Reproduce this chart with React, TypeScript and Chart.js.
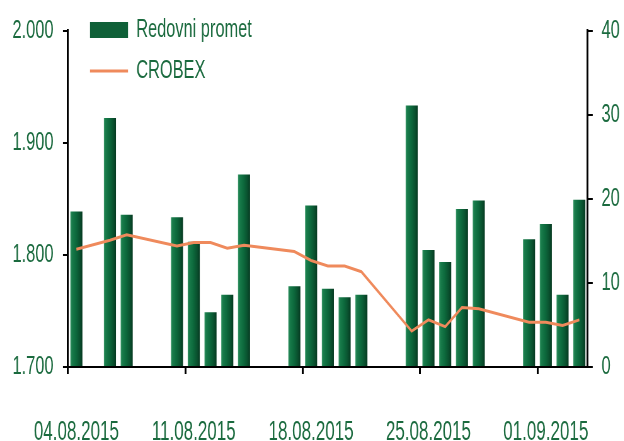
import React, { useEffect, useRef } from 'react';
import { Chart, registerables } from 'chart.js';

Chart.register(...registerables);

// ---- data ----
const dates: string[] = [
  '04.08.2015', '05.08.2015', '06.08.2015', '07.08.2015', '08.08.2015', '09.08.2015', '10.08.2015',
  '11.08.2015', '12.08.2015', '13.08.2015', '14.08.2015', '15.08.2015', '16.08.2015', '17.08.2015',
  '18.08.2015', '19.08.2015', '20.08.2015', '21.08.2015', '22.08.2015', '23.08.2015', '24.08.2015',
  '25.08.2015', '26.08.2015', '27.08.2015', '28.08.2015', '29.08.2015', '30.08.2015', '31.08.2015',
  '01.09.2015', '02.09.2015', '03.09.2015',
];
const redovniPromet: (number | null)[] = [
  18.5, null, 29.6, 18.1, null, null, 17.8,
  14.9, 6.5, 8.6, 22.9, null, null, 9.6,
  19.2, 9.3, 8.3, 8.6, null, null, 31.1,
  13.9, 12.5, 18.8, 19.8, null, null, 15.2,
  17.0, 8.6, 19.9,
];
const crobex: (number | null)[] = [
  1805, null, 1813, 1818, null, null, 1808,
  1811, 1811, 1806, 1808.5, null, null, 1803,
  1795, 1790, 1790, 1785, null, null, 1732,
  1742, 1736, 1753, 1752, null, null, 1740,
  1740, 1737, 1742,
];
const leftMin = 1700;
const leftMax = 2000;
const leftStep = 100;
const rightMin = 0;
const rightMax = 40;
const rightStep = 10;
const labelEvery = 7;

// ---- styles ----
const SX = 0.63;
const W = 624 / SX;
const H = 441;
const GREEN_TEXT = '#1a6a3e';
const BAR = '#0f6038';
const LINE = '#ef8a5c';
const FONT = "'Liberation Sans', Arial, sans-serif";
const LEGEND_PAD = 15;

const legendPos = {
  id: 'legendPos',
  afterLayout(chart: any) {
    const lg = chart.legend;
    if (lg) {
      lg.left = 90 / SX - LEGEND_PAD;
      lg.top = 2;
    }
  },
};

export default function App() {
  const ref = useRef<HTMLCanvasElement | null>(null);

  useEffect(() => {
    document.body.style.margin = '0';
    const canvas = ref.current;
    if (!canvas) return;

    const barBg = (ctx: any) => {
      const chart = ctx.chart;
      const xs = chart.scales && chart.scales.x;
      if (!chart.chartArea || !xs || ctx.dataIndex === undefined) return BAR;
      const x = xs.getPixelForValue(ctx.dataIndex);
      const half = ((chart.chartArea.width / dates.length) * 0.72) / 2;
      if (!isFinite(x)) return BAR;
      const g = chart.ctx.createLinearGradient(x - half, 0, x + half, 0);
      g.addColorStop(0, '#3f9a6c');
      g.addColorStop(0.12, '#1a7d4c');
      g.addColorStop(0.45, '#0d6a3d');
      g.addColorStop(0.75, '#0a5330');
      g.addColorStop(1, '#063a21');
      return g;
    };

    const chart = new Chart(canvas, {
      type: 'bar',
      data: {
        labels: dates,
        datasets: [
          {
            type: 'bar',
            label: 'Redovni promet',
            data: redovniPromet,
            yAxisID: 'y1',
            backgroundColor: barBg,
            borderWidth: 0,
            barPercentage: 1,
            categoryPercentage: 0.72,
            order: 2,
          } as any,
          {
            type: 'line',
            label: 'CROBEX',
            data: crobex,
            yAxisID: 'y',
            borderColor: LINE,
            backgroundColor: LINE,
            borderWidth: 3,
            pointRadius: 0,
            pointStyle: 'line',
            tension: 0,
            spanGaps: true,
            order: 1,
          } as any,
        ],
      },
      options: {
        responsive: false,
        maintainAspectRatio: false,
        animation: false,
        devicePixelRatio: 1,
        layout: { padding: { top: 27, left: 0, right: 0, bottom: 0 } },
        plugins: {
          tooltip: { enabled: false },
          legend: {
            display: true,
            position: 'chartArea',
            align: 'start',
            labels: {
              usePointStyle: true,
              pointStyleWidth: 38 / SX,
              boxWidth: 38 / SX,
              boxHeight: 16,
              padding: LEGEND_PAD,
              color: GREEN_TEXT,
              font: { family: FONT, size: 26 },
              sort: (a: any, b: any) => a.datasetIndex - b.datasetIndex,
              generateLabels: (ch: any) => {
                const items = (Chart as any).defaults.plugins.legend.labels.generateLabels(ch);
                return items.map((it: any) =>
                  it.datasetIndex === 0
                    ? { ...it, fillStyle: BAR, strokeStyle: BAR, pointStyle: 'rect', lineWidth: 0 }
                    : { ...it, fillStyle: LINE, strokeStyle: LINE, pointStyle: 'line', lineWidth: 3 }
                );
              },
            },
          } as any,
        },
        scales: {
          x: {
            type: 'category',
            offset: true,
            afterFit: (s: any) => {
              s.height = 74;
            },
            border: { display: true, color: '#000', width: 2 },
            grid: {
              display: true,
              offset: true,
              drawOnChartArea: false,
              drawTicks: true,
              tickLength: 7,
              lineWidth: 3,
              tickWidth: 3,
              color: (c: any) => (c.index % labelEvery === 0 ? '#000' : 'rgba(0,0,0,0)'),
              tickColor: (c: any) => (c.index % labelEvery === 0 ? '#000' : 'rgba(0,0,0,0)'),
            },
            ticks: {
              autoSkip: false,
              maxRotation: 0,
              minRotation: 0,
              padding: 42,
              color: GREEN_TEXT,
              font: { family: FONT, size: 27 },
              callback: (_v: any, i: number) => (i % labelEvery === 0 ? dates[i] : ''),
            },
          },
          y: {
            type: 'linear',
            position: 'left',
            min: leftMin,
            max: leftMax,
            afterFit: (s: any) => {
              s.width = 68 / SX;
            },
            border: { display: true, color: '#000', width: 3 },
            grid: {
              display: true,
              drawOnChartArea: false,
              drawTicks: true,
              tickLength: 8,
              lineWidth: 2,
              color: '#000',
            },
            ticks: {
              stepSize: leftStep,
              padding: 15,
              color: GREEN_TEXT,
              font: { family: FONT, size: 26 },
              callback: (v: any) => {
                const n = Number(v);
                return `${Math.floor(n / 1000)}.${String(n % 1000).padStart(3, '0')}`;
              },
            },
          },
          y1: {
            type: 'linear',
            position: 'right',
            min: rightMin,
            max: rightMax,
            afterFit: (s: any) => {
              s.width = W - 588 / SX;
            },
            border: { display: true, color: '#000', width: 3 },
            grid: {
              display: true,
              drawOnChartArea: false,
              drawTicks: true,
              tickLength: 8,
              lineWidth: 2,
              color: '#000',
            },
            ticks: {
              stepSize: rightStep,
              padding: 14,
              color: GREEN_TEXT,
              font: { family: FONT, size: 26 },
            },
          },
        },
      } as any,
      plugins: [legendPos],
    });

    return () => {
      chart.destroy();
    };
  }, []);

  return (
    <div style={{ width: 624, height: 441, overflow: 'hidden', position: 'relative' }}>
      <canvas
        ref={ref}
        width={W}
        height={H}
        style={{
          width: W,
          height: H,
          display: 'block',
          transform: `scaleX(${SX})`,
          transformOrigin: '0 0',
        }}
      />
    </div>
  );
}
